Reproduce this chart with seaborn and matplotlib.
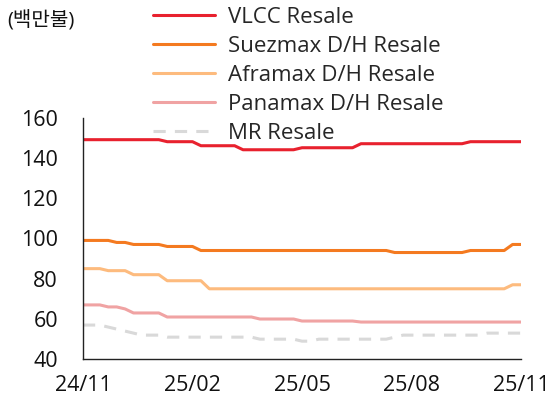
import matplotlib
matplotlib.use("Agg")
import matplotlib.pyplot as plt
import seaborn as sns
import pandas as pd
import numpy as np

weeks = list(range(53))
tick_positions = [0, 13, 26, 39, 52]
tick_labels = ["24/11", "25/02", "25/05", "25/08", "25/11"]

vlcc = [149, 149, 149, 149, 149, 149, 149, 149, 149, 149,
        148, 148, 148, 148,
        146, 146, 146, 146, 146,
        144, 144, 144, 144, 144, 144, 144,
        145, 145, 145, 145, 145, 145, 145,
        147, 147, 147, 147, 147, 147, 147, 147, 147, 147, 147, 147, 147,
        148, 148, 148, 148, 148, 148, 148]
suezmax = [99, 99, 99, 99,
           98, 98,
           97, 97, 97, 97,
           96, 96, 96, 96,
           94, 94, 94, 94, 94, 94, 94, 94, 94, 94, 94, 94, 94, 94, 94, 94, 94, 94, 94, 94, 94, 94, 94,
           93, 93, 93, 93, 93, 93, 93, 93, 93,
           94, 94, 94, 94, 94,
           97, 97]
aframax = [85, 85, 85,
           84, 84, 84,
           82, 82, 82, 82,
           79, 79, 79, 79, 79,
           75, 75, 75, 75, 75, 75, 75, 75, 75, 75, 75, 75, 75, 75, 75, 75, 75, 75,
           75, 75, 75, 75, 75, 75, 75, 75, 75, 75, 75, 75, 75, 75, 75, 75, 75, 75,
           77, 77]
panamax = [67, 67, 67,
           66, 66,
           65,
           63, 63, 63, 63,
           61, 61, 61, 61, 61, 61, 61, 61, 61, 61, 61,
           60, 60, 60, 60, 60,
           59, 59, 59, 59, 59, 59, 59,
           58.5, 58.5, 58.5, 58.5, 58.5, 58.5, 58.5, 58.5, 58.5, 58.5,
           58.5, 58.5, 58.5, 58.5, 58.5, 58.5, 58.5, 58.5, 58.5, 58.5]
mr = [57, 57, 57, 56, 55, 54, 53,
      52, 52, 52,
      51, 51, 51, 51, 51, 51, 51, 51, 51, 51, 51,
      50, 50, 50, 50, 50,
      49, 49,
      50, 50, 50, 50, 50, 50, 50, 50, 50,
      51,
      52, 52, 52, 52, 52, 52, 52, 52, 52, 52,
      53, 53, 53, 53, 53]

series_names = ["VLCC Resale", "Suezmax D/H Resale", "Aframax D/H Resale",
                "Panamax D/H Resale", "MR Resale"]
series_values = [vlcc, suezmax, aframax, panamax, mr]
colors = ["#E8212E", "#F47A20", "#FDBB7E", "#F0A3A3", "#D9D9D9"]

frames = []
for name, vals in zip(series_names, series_values):
    frames.append(pd.DataFrame({"week": weeks, "value": vals, "series": name}))
df = pd.concat(frames, ignore_index=True)

sns.set_theme(style="white")
plt.rcParams["font.family"] = ["Open Sans", "Noto Sans CJK KR", "DejaVu Sans"]

fig = plt.figure(figsize=(5.51, 4.03), dpi=100)
ax = fig.add_axes([0.1506, 0.1084, 0.9456 - 0.1506, 0.7084 - 0.1084])

palette = dict(zip(series_names, colors))
dashes = {n: "" for n in series_names}
dashes["MR Resale"] = (4, 3)
sns.lineplot(data=df, x="week", y="value", hue="series", style="series",
             palette=palette, dashes=dashes, hue_order=series_names,
             style_order=series_names, linewidth=2.2, ax=ax)

ax.set_xlim(0, 52)
ax.set_ylim(40, 160)
ax.set_yticks([40, 60, 80, 100, 120, 140, 160])
ax.set_xticks(tick_positions)
ax.set_xticklabels(tick_labels)
ax.set_xlabel("")
ax.set_ylabel("")
for s in ["top", "right"]:
    ax.spines[s].set_visible(False)
for s in ["left", "bottom"]:
    ax.spines[s].set_color("#222222")
    ax.spines[s].set_linewidth(1.0)
ax.tick_params(axis="both", which="major", direction="out", length=5, width=1,
               color="#222222", labelsize=15.5, labelcolor="#111111")
ax.tick_params(axis="y", pad=13)
ax.tick_params(axis="x", pad=6)

handles, labels = ax.get_legend_handles_labels()
ax.get_legend().remove()
leg = fig.legend(handles, labels, loc="upper left", bbox_to_anchor=(0.262, 1.005),
                 frameon=False, fontsize=16, handlelength=2.8, handletextpad=0.55,
                 labelspacing=0.36, borderaxespad=0)
for line in leg.get_lines():
    line.set_linewidth(2.2)

fig.text(0.013, 0.948, "(백만불)", fontsize=14.5, color="#111111", va="center", ha="left")

fig.savefig("out.png", dpi=100)
